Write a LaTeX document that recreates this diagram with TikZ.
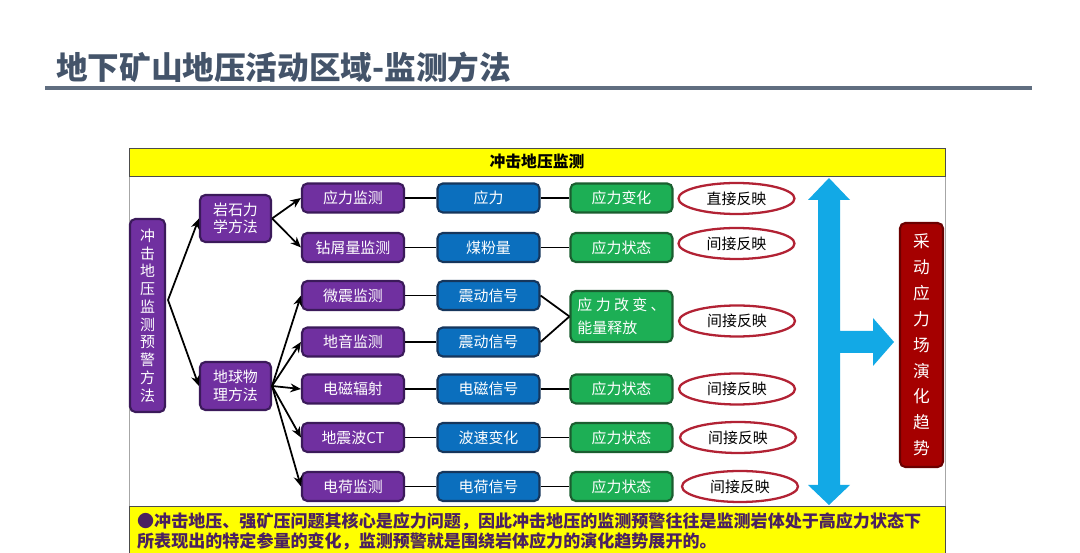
\documentclass[tikz,border=0pt]{standalone}
\usepackage{fontspec}
\setmainfont{Noto Sans CJK SC}
\usetikzlibrary{arrows.meta,shapes.geometric}
\definecolor{titleblue}{HTML}{44546A}
\definecolor{purpfill}{HTML}{7030A0}
\definecolor{purpline}{HTML}{3B1A5A}
\definecolor{bluefill}{HTML}{0B6FBE}
\definecolor{blueline}{HTML}{16365C}
\definecolor{greenfill}{HTML}{1DAF55}
\definecolor{greenline}{HTML}{1B5E30}
\definecolor{ringred}{HTML}{B22234}
\definecolor{redfill}{HTML}{A50000}
\definecolor{redline}{HTML}{6B0000}
\definecolor{arrowblue}{HTML}{12A9E6}
\definecolor{baryellow}{HTML}{FFFF00}
\definecolor{notetext}{HTML}{4A2060}
\begin{document}
\begin{tikzpicture}[x=0.02cm,y=-0.02cm,
    box/.style={draw,line width=1.2pt,rounded corners=3pt,text=white,
      font=\fontsize{8.5}{10}\selectfont,minimum width=2.04cm,minimum height=0.58cm,inner sep=1pt},
    method/.style={box,fill=purpfill,draw=purpline},
    signal/.style={box,fill=bluefill,draw=blueline},
    effect/.style={box,fill=greenfill,draw=greenline},
    reflect/.style={ellipse,draw=ringred,line width=1.3pt,fill=white,
      font=\fontsize{8.5}{10}\selectfont,minimum width=2.32cm,minimum height=0.62cm,inner sep=0pt},
    link/.style={line width=1pt},
    branch/.style={line width=1pt,-{Stealth[length=6pt,width=5pt]}}]
  \useasboundingbox (0,0) rectangle (1080,553);
  % title
  \node[anchor=west,text=titleblue,font=\bfseries\fontsize{18}{20}\selectfont] (title) at (50,67) {地下矿山地压活动区域-监测方法};
  \draw[titleblue!85,line width=2.3pt] (45,88) -- (1032,88);
  % frame
  \draw[gray!70,fill=white] (129,176) rectangle (945,506);
  \node[draw=gray!60!black,fill=baryellow,minimum width=16.32cm,minimum height=0.56cm,
    font=\bfseries\fontsize{9}{10}\selectfont] (head) at (537,162) {冲击地压监测};
  \node[draw=gray!60!black,fill=baryellow,minimum width=16.32cm,minimum height=0.94cm] (note) at (537,529.5) {};
  \node[anchor=west,align=left,text=notetext,font=\bfseries\fontsize{9.7}{11.3}\selectfont] (notetxt) at (131,531)
    {●冲击地压、强矿压问题其核心是应力问题，因此冲击地压的监测预警往往是监测岩体处于高应力状态下\\所表现出的特定参量的变化，监测预警就是围绕岩体应力的演化趋势展开的。};
  % methods
  \node[method,align=center,minimum width=0.7cm,minimum height=3.86cm,font=\fontsize{8.5}{10.1}\selectfont] (root) at (147.5,315.5)
    {冲\\击\\地\\压\\监\\测\\预\\警\\方\\法};
  \node[method,align=left,minimum width=1.42cm,minimum height=0.94cm] (rock) at (235.5,218.5) {岩石力\\学方法};
  \node[method,align=left,minimum width=1.42cm,minimum height=0.96cm] (geo) at (235.5,386) {地球物\\理方法};
  \coordinate (fork) at (168,300);
  % monitoring rows
  \node[method] (m1) at (353,198) {应力监测};
  \node[method] (m2) at (353,247.5) {钻屑量监测};
  \node[method] (m3) at (353,295.5) {微震监测};
  \node[method] (m4) at (353,342) {地音监测};
  \node[method] (m5) at (353,389) {电磁辐射};
  \node[method] (m6) at (353,437.5) {地震波CT};
  \node[method] (m7) at (353,486.5) {电荷监测};
  \node[signal] (s1) at (488.5,198) {应力};
  \node[signal] (s2) at (488.5,247.5) {煤粉量};
  \node[signal] (s3) at (488.5,295.5) {震动信号};
  \node[signal] (s4) at (488.5,342) {震动信号};
  \node[signal] (s5) at (488.5,389) {电磁信号};
  \node[signal] (s6) at (488.5,437.5) {波速变化};
  \node[signal] (s7) at (488.5,486.5) {电荷信号};
  \node[effect] (e1) at (621.5,198) {应力变化};
  \node[effect] (e2) at (621.5,247.5) {应力状态};
  \node[effect,align=left,minimum height=1.02cm,font=\fontsize{8.5}{13}\selectfont] (e3) at (621.5,316.5) {应 力 改 变 、\\能量释放};
  \node[effect] (e5) at (621.5,389) {应力状态};
  \node[effect] (e6) at (621.5,437.5) {应力状态};
  \node[effect] (e7) at (621.5,486.5) {应力状态};
  \node[reflect] (r1) at (736.5,198.5) {直接反映};
  \node[reflect] (r2) at (736.5,243.5) {间接反映};
  \node[reflect] (r3) at (737,321) {间接反映};
  \node[reflect] (r5) at (737,389) {间接反映};
  \node[reflect] (r6) at (738,437.5) {间接反映};
  \node[reflect] (r7) at (740,486.5) {间接反映};
  % result
  \node[box,fill=redfill,draw=redline,align=center,minimum width=0.86cm,minimum height=4.88cm,
    font=\fontsize{9.5}{14.7}\selectfont] (trend) at (921.5,345) {采\\动\\应\\力\\场\\演\\化\\趋\\势};
  \fill[arrowblue] (829,178) -- (850,200) -- (840,200) -- (840,331) -- (873,331) -- (873,318)
    -- (894,342) -- (873,366) -- (873,353) -- (840,353) -- (840,485) -- (850,485) -- (829,505)
    -- (808,485) -- (818,485) -- (818,200) -- (808,200) -- cycle;
  % connectors
  \draw[branch] (fork) -- (rock.west);
  \draw[branch] (fork) -- (geo.west);
  \foreach \m in {m1,m2} \draw[branch] (rock.east) -- (\m.west);
  \foreach \m in {m3,m4,m5,m6,m7} \draw[branch] (geo.east) -- (\m.west);
  \foreach \i in {1,...,7} \draw[link] (m\i) -- (s\i);
  \foreach \i in {1,2,5,6,7} \draw[link] (s\i) -- (e\i);
  \draw[link] (s3.east) -- (e3.west);
  \draw[link] (s4.east) -- (e3.west);
\end{tikzpicture}
\end{document}
